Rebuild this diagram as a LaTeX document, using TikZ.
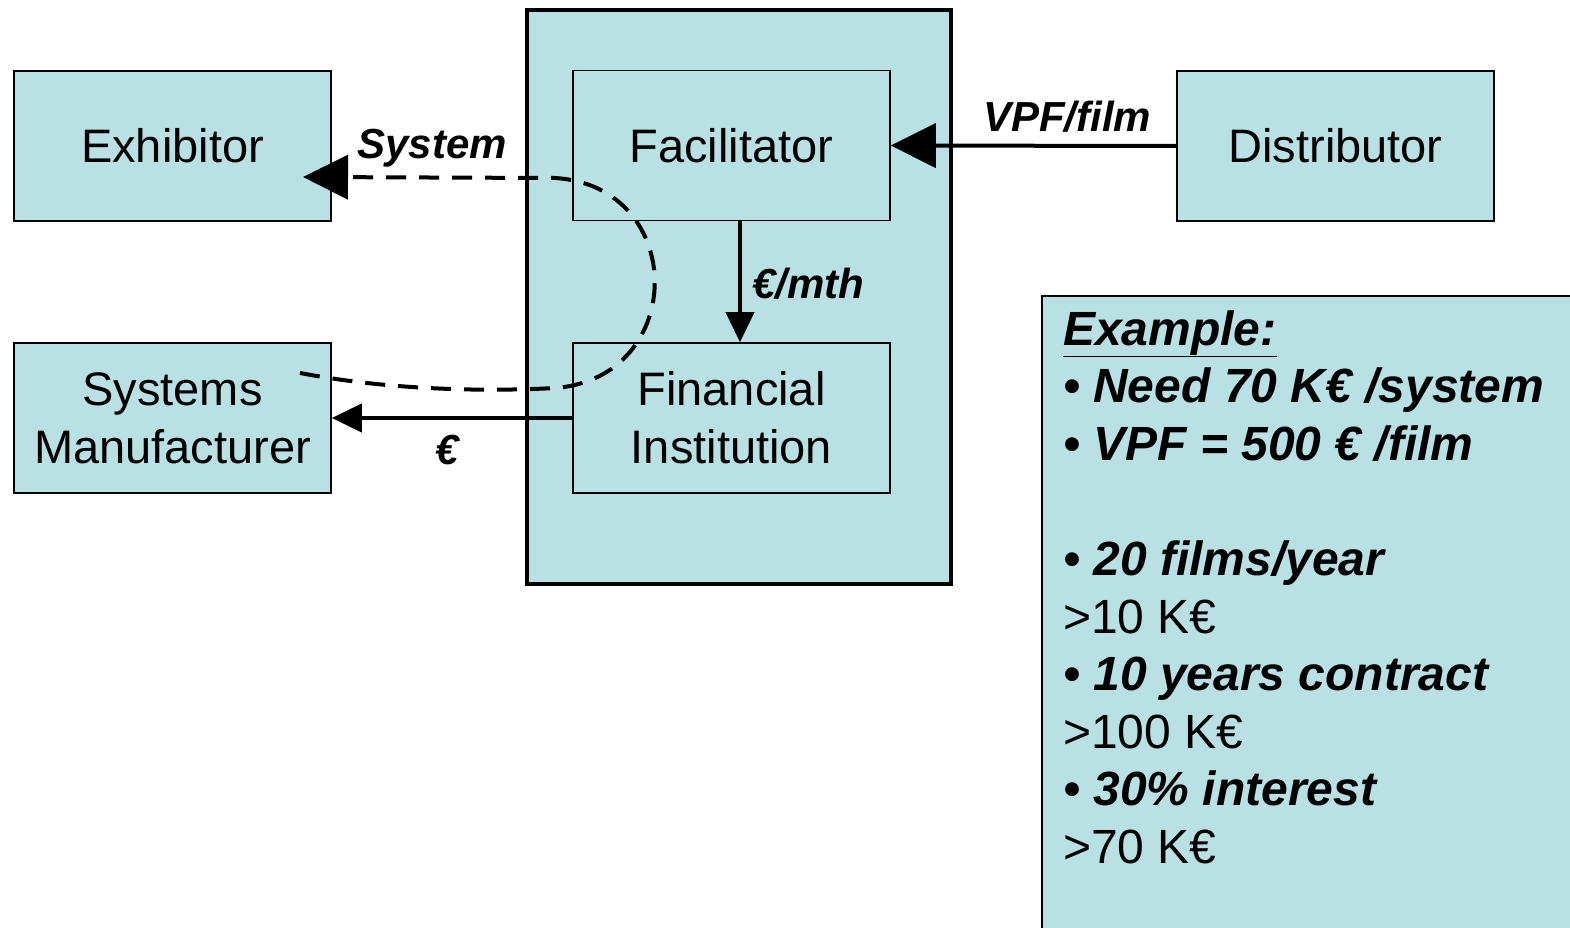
\documentclass[tikz,border=0pt]{standalone}
\usepackage{fontspec}
\setmainfont{Liberation Sans}
\usetikzlibrary{arrows.meta}
\definecolor{boxfill}{RGB}{185,224,227}
\begin{document}
\begin{tikzpicture}[x=1pt,y=-1pt,
  box/.style={draw=black,line width=1.6pt,fill=boxfill,minimum width=317pt,minimum height=150pt,
    inner sep=0pt,align=center,font=\fontsize{47}{58}\selectfont},
  lbl/.style={font=\fontsize{42}{50}\selectfont\bfseries\itshape,inner sep=0pt},
  ex/.style={anchor=base west,inner sep=0pt,font=\fontsize{48}{57.6}\selectfont},
  exb/.style={ex,font=\fontsize{48}{57.6}\selectfont\bfseries\itshape},
  bigarr/.style={line width=4pt,-{Triangle[length=45pt,width=44pt]}},
  smallarr/.style={line width=4pt,-{Triangle[length=30pt,width=28pt]}},
  dasharr/.style={line width=4pt,dash pattern=on 20pt off 13pt,-{Triangle[length=45pt,width=44pt]}}
]
\useasboundingbox (0,0) rectangle (1570,928);
% outer container
\node[draw=black,line width=4pt,fill=boxfill,minimum width=424pt,minimum height=574pt,inner sep=0pt] (outer) at (739,297) {};
% boxes
\node[box] (exh) at (172.5,146) {Exhibitor};
\node[box] (sm) at (172.5,418) {Systems\\Manufacturer};
\node[box] (fac) at (731.5,145.5) {Facilitator};
\node[box] (fi) at (731.5,418) {Financial\\Institution};
\node[box] (dist) at (1335.5,146) {Distributor};
% example box
\fill[boxfill] (1042,296) rectangle (1572,930);
\draw[line width=1.6pt] (1042,930) |- (1572,296);
\node[exb] (e0) at (1063,345) {\underline{Example:}};
\node[exb] (e1) at (1063,402.6) {• Need 70 K€ /system};
\node[exb] (e2) at (1063,460.2) {• VPF = 500 € /film};
\node[exb] (e3) at (1063,575.4) {• 20 films/year};
\node[ex] (e4) at (1063,633) {>10 K€};
\node[exb] (e5) at (1063,690.6) {• 10 years contract};
\node[ex] (e6) at (1063,748.2) {>100 K€};
\node[exb] (e7) at (1063,805.8) {• 30\% interest};
\node[ex] (e8) at (1063,863.4) {>70 K€};
% connectors
\draw[bigarr] (dist.west) -- (fac.east);
\draw[smallarr] ([xshift=8.5pt]fac.south) -- ([xshift=8.5pt]fi.north);
\draw[smallarr] (fi.west) -- (sm.east);
\coordinate (dstart) at (300,373);
\coordinate (dend) at (303,177);
\draw[dasharr] (dstart) .. controls (400,392) and (500,391) .. (555,388)
  .. controls (688,378) and (688,186) .. (555,178) -- (dend);
% labels
\node[lbl] (lsys) at (432,148) {System};
\node[lbl] (lvpf) at (1067,117) {VPF/film};
\node[lbl] (lmth) at (808,284) {€/mth};
\node[lbl] (leur) at (447,450) {€};
\end{tikzpicture}
\end{document}
